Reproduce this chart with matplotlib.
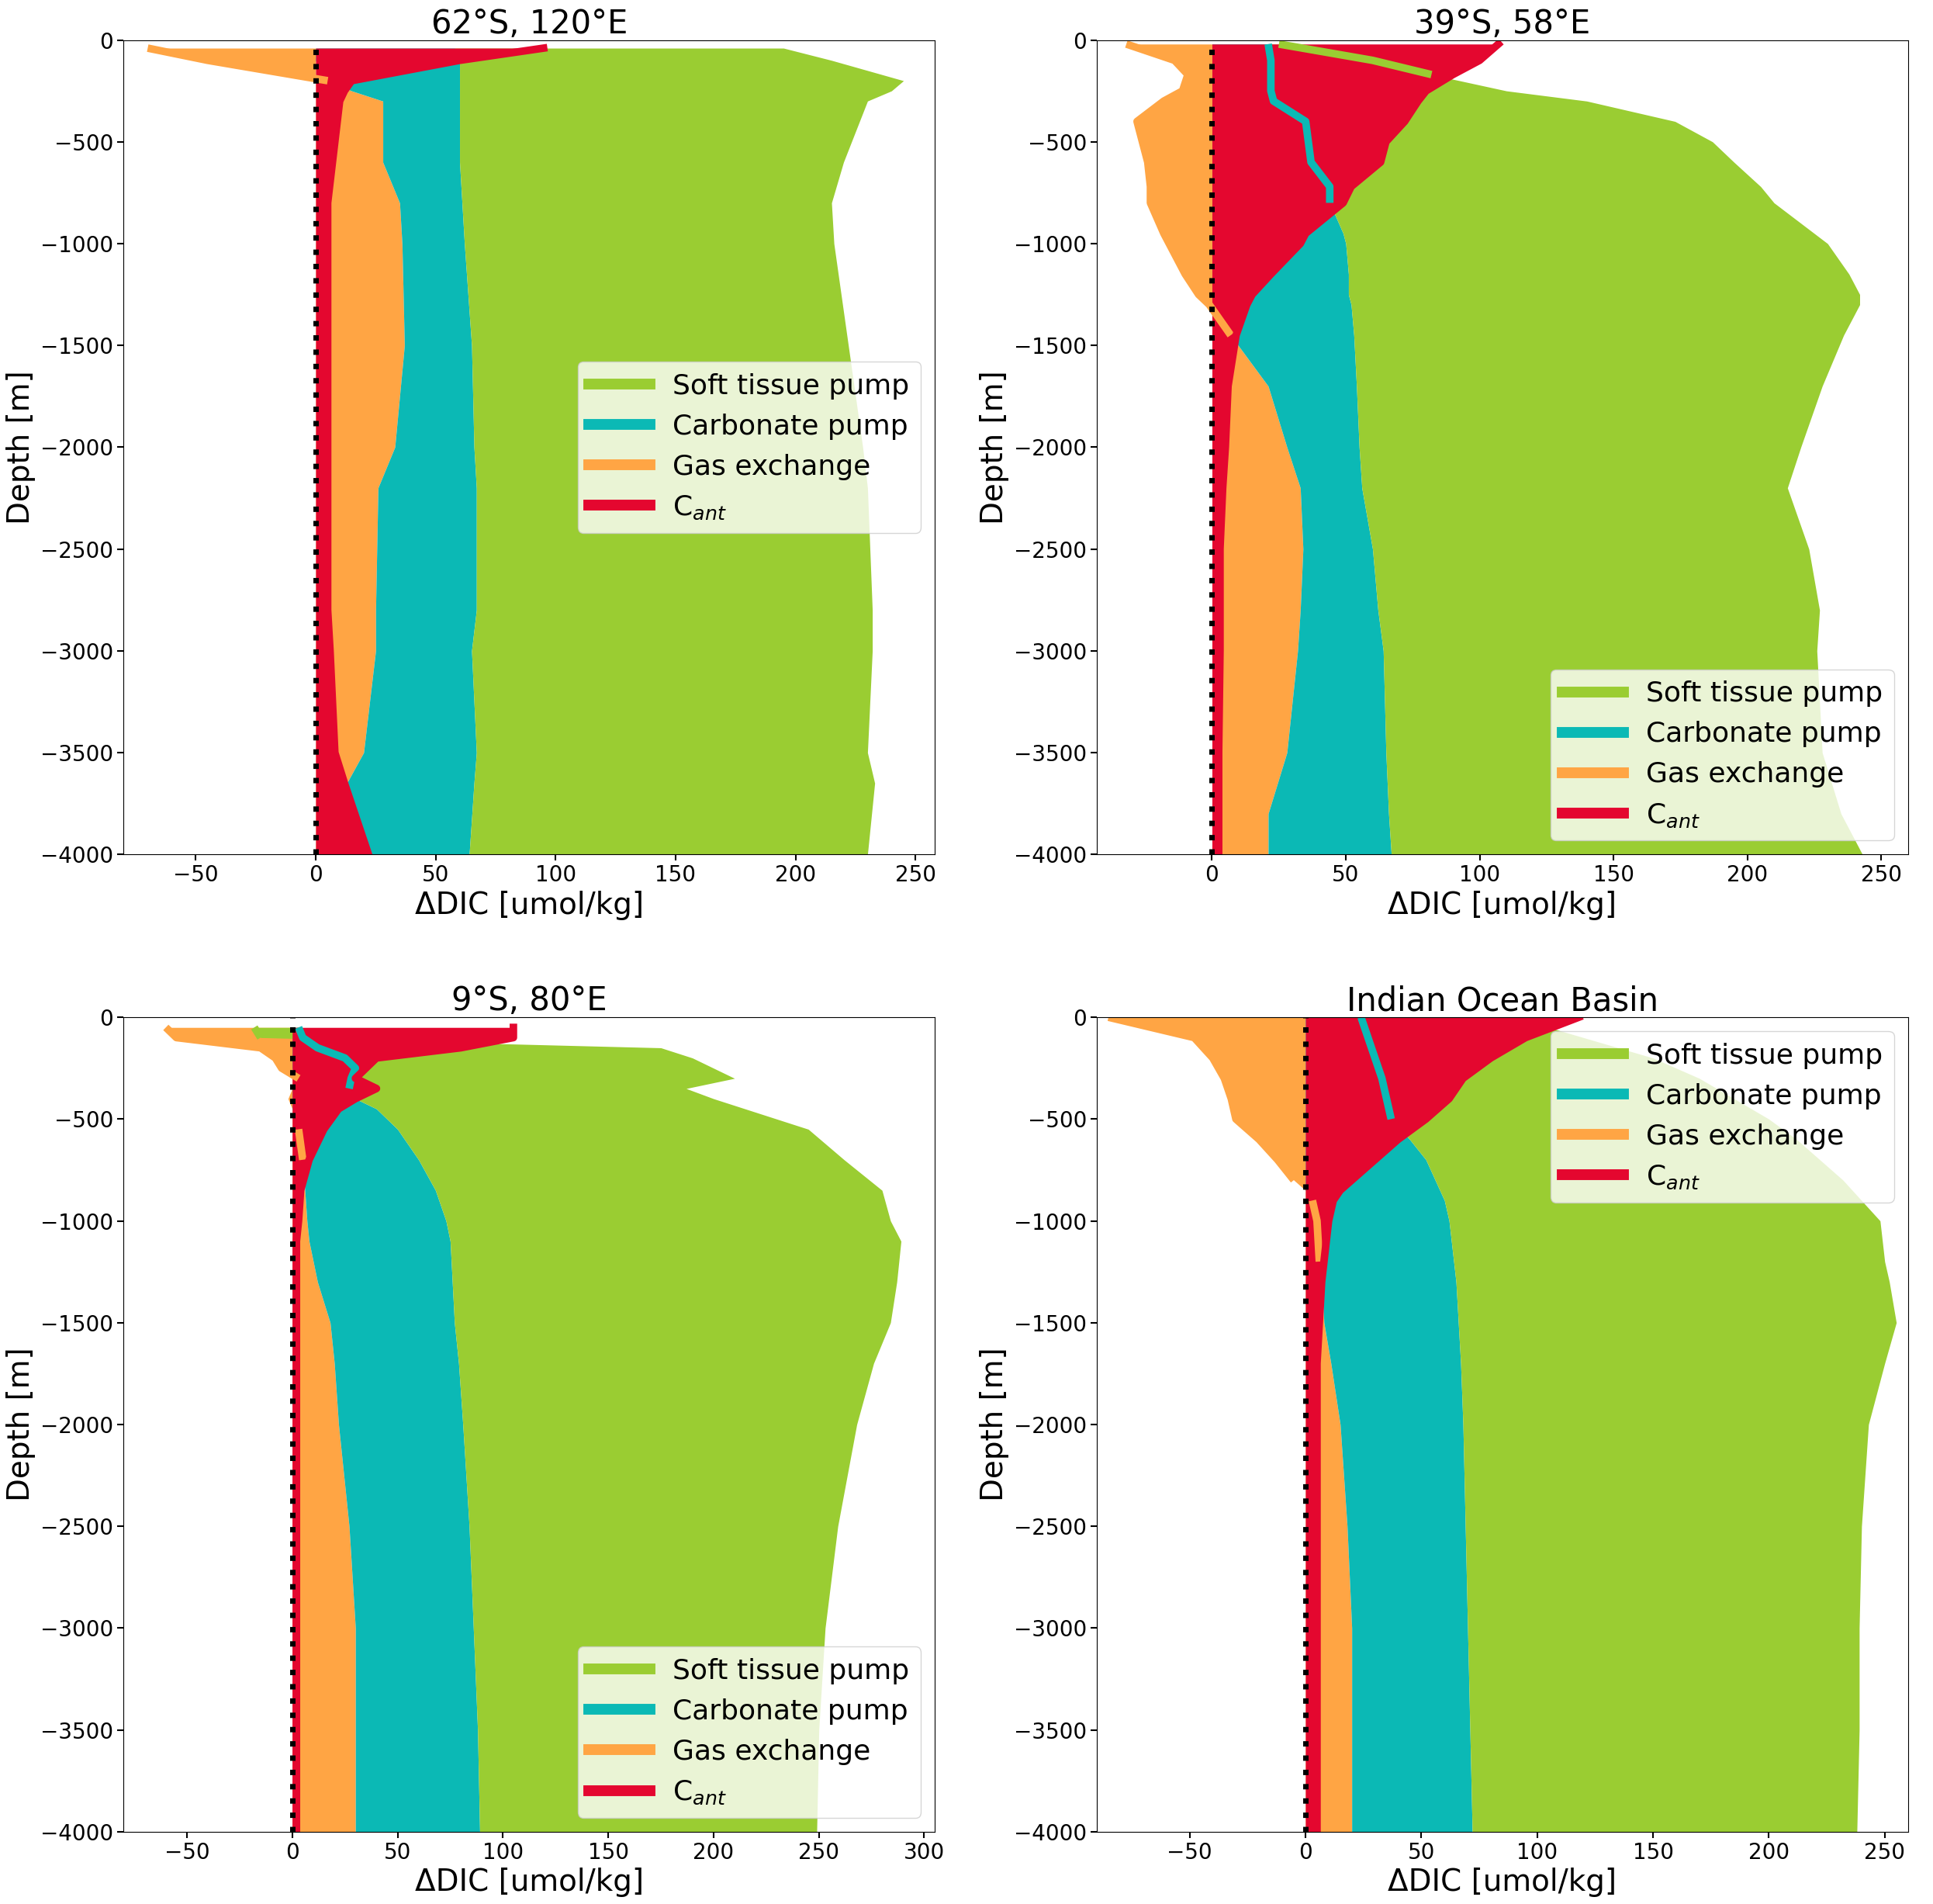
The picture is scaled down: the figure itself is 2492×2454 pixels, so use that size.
import numpy as np
import matplotlib
matplotlib.use("Agg")
import matplotlib.pyplot as plt
from matplotlib.lines import Line2D

titles = ["62°S, 120°E", "39°S, 58°E", "9°S, 80°E", "Indian Ocean Basin"]

# Panel 1
depth1 = [-40, -100, -200, -250, -300, -600, -800, -1000, -1500, -2000, -2200, -2800, -3000, -3500, -3650, -4000]
gas1 = [-70, -45, 5, 15, 28, 28, 35, 36, 37, 33, 26, 25, 25, 20, 13, 4]
carb1 = [58, 60, 60, 60, 60, 60, 61, 62, 65, 66, 67, 67, 65, 67, 66, 64]
soft1 = [195, 215, 245, 240, 230, 220, 215, 216, 222, 228, 230, 232, 232, 230, 233, 230]
cant1 = [95, 60, 15, 12, 10, 7, 5, 5, 5, 5, 5, 5, 6, 8, 12, 22]

# Panel 2
depth2 = [-20, -100, -170, -250, -300, -400, -500, -600, -720, -800, -950, -1000, -1150, -1250, -1300,
          -1450, -1700, -2000, -2200, -2500, -2800, -3000, -3500, -3800, -4000]
gas2 = [-32, -14, -9, -11, -18, -28, -26, -24, -23, -23, -18, -16, -10, -5, -1, 7, 21, 28, 33, 34, 33, 32, 28, 21, 21]
carb2 = [21, 22, 22, 22, 23, 35, 36, 37, 44, 44, 49, 50, 51, 51, 52, 53, 54, 55, 56, 60, 62, 64, 65, 66, 67]
soft2 = [25, 60, 82, 110, 140, 173, 187, 195, 205, 210, 225, 230, 238, 242, 242, 236, 228, 220, 215, 223, 227, 226, 228, 235, 243]
cant2 = [107, 100, 90, 80, 77, 72, 65, 63, 52, 49, 35, 33, 22, 15, 13, 9, 6, 5, 4, 3, 3, 3, 2.5, 2.5, 2.5]

# Panel 3
depth3 = [-50, -100, -150, -200, -250, -300, -350, -400, -450, -550, -700, -850, -1000, -1100, -1300,
          -1500, -1700, -2000, -2500, -3000, -3500, -4000]
gas3 = [-60, -55, -15, -8, -5, 3, 0, -2, 0, 3, 5, 6, 7, 8, 12, 18, 20, 22, 27, 30, 30, 30]
carb3 = [3, 5, 12, 25, 30, 28, 27, 30, 40, 50, 60, 68, 73, 75, 76, 77, 79, 81, 84, 86, 88, 89]
soft3 = [-18, -15, 175, 190, 200, 210, 187, 200, 215, 245, 262, 280, 284, 289, 287, 284, 276, 268, 259, 253, 250, 249]
cant3 = [105, 105, 80, 40, 35, 30, 40, 30, 22, 15, 8, 4, 3, 2, 2, 2, 2, 2, 2, 2, 2, 2]

# Panel 4
depth4 = [0, -100, -200, -300, -400, -500, -600, -700, -800, -850, -900, -1000, -1200, -1300, -1500,
          -1700, -2000, -2500, -3000, -3500, -4000]
gas4 = [-85, -48, -40, -35, -32, -30, -20, -12, -5, 0, 3, 5, 6, 7, 8, 11, 15, 18, 20, 20, 20]
carb4 = [24, 27, 30, 33, 35, 37, 45, 52, 56, 58, 60, 62, 64, 65, 66, 67, 68, 69, 70, 71, 72]
soft4 = [90, 120, 150, 170, 185, 200, 212, 222, 232, 236, 240, 248, 250, 252, 255, 250, 243, 240, 239, 239, 238]
cant4 = [118, 95, 80, 68, 62, 52, 40, 30, 20, 15, 12, 10, 8, 7, 6, 5, 5, 5, 5, 5, 5]

panels = [(depth1, gas1, carb1, soft1, cant1), (depth2, gas2, carb2, soft2, cant2),
          (depth3, gas3, carb3, soft3, cant3), (depth4, gas4, carb4, soft4, cant4)]
xlims = [(-80, 258), (-43, 260), (-80, 305), (-90, 260)]
legend_locs = ["center right", "lower right", "lower right", "upper right"]

c_soft = "#9ACD32"
c_carb = "#0BB9B5"
c_gas = "#FFA544"
c_cant = "#E4072F"
lw = 7

fig, axes = plt.subplots(2, 2, figsize=(24.92, 24.54), dpi=100)
fig.subplots_adjust(left=0.064, right=0.987, top=0.979, bottom=0.038, wspace=0.2, hspace=0.2)

for ax, (d, g, c, s, ca), title, xl, loc in zip(axes.flat, panels, titles, xlims, legend_locs):
    d = np.array(d, float); g = np.array(g, float); c = np.array(c, float)
    s = np.array(s, float); ca = np.array(ca, float)
    base = np.maximum(g, 0)
    ax.fill_betweenx(d, 0, g, color=c_gas, lw=0)
    ax.fill_betweenx(d, base, c, color=c_carb, lw=0)
    ax.fill_betweenx(d, c, s, color=c_soft, lw=0)
    ax.fill_betweenx(d, 0, ca, color=c_cant, lw=0)
    # edge lines visible where covered by Cant
    for edge, col in [(g, c_gas), (c, c_carb), (s, c_soft)]:
        m = np.where((edge < ca) & (edge != 0), edge, np.nan)
        ax.plot(m, d, color=col, lw=lw, solid_capstyle="butt")
    ax.plot(ca, d, color=c_cant, lw=lw)
    ax.axvline(0, color="black", ls=":", lw=5)
    ax.set_xlim(*xl)
    ax.set_ylim(-4000, 0)
    ax.set_title(title, fontsize=30, pad=4)
    ax.set_xlabel("ΔDIC [umol/kg]", fontsize=28)
    ax.set_ylabel("Depth [m]", fontsize=28)
    ax.tick_params(labelsize=20, width=1.5, length=6)
    handles = [Line2D([], [], color=c_soft, lw=10), Line2D([], [], color=c_carb, lw=10),
               Line2D([], [], color=c_gas, lw=10), Line2D([], [], color=c_cant, lw=10)]
    ax.legend(handles, ["Soft tissue pump", "Carbonate pump", "Gas exchange", r"C$_{ant}$"],
              loc=loc, fontsize=26, handlelength=2.2)

fig.savefig("out.png", dpi=100)
